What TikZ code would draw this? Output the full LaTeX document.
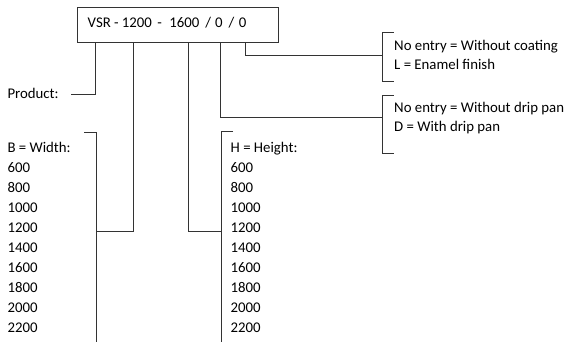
\documentclass[tikz,border=0pt]{standalone}
\usepackage{fontspec}
\setmainfont{Carlito}
\begin{document}
\begin{tikzpicture}[x=1pt,y=-1pt,
  lbl/.style={anchor=base west,inner sep=0pt,font=\fontsize{14.8}{19}\selectfont},
  ln/.style={draw=black!80,line width=0.8pt},
  codebox/.style={draw=black!80,line width=0.8pt,minimum height=35.4pt,text width=180pt,
    inner xsep=10.6pt,inner ysep=0pt,text height=10pt,text depth=5.4pt,
    align=left,anchor=west,font=\fontsize{14.8}{19}\selectfont}]
\useasboundingbox (0,0) rectangle (569,342);
% code box
\node[codebox] (code) at (76.7,25) {VSR\hspace{3.2pt}-\hspace{3.2pt}1200\hspace{5.5pt}-\hspace{7.5pt}1600\hspace{6pt}/\hspace{4pt}0\hspace{6pt}/\hspace{4.5pt}0};
% points on the box bottom
\coordinate (b1) at (95,42.7);
\coordinate (b2) at (133.3,42.7);
\coordinate (b3) at (188.3,42.7);
\coordinate (b4) at (220.7,42.7);
\coordinate (b5) at (245,42.7);
% product
\node[lbl] (prod) at (7.3,98.3) {Product:};
\coordinate (pe) at (71,94);
\draw[ln] (b1) |- (pe);
% width column
\node[lbl] (bw) at (7.3,152) {B = Width:};
\foreach \v [count=\i] in {600,800,1000,1200,1400,1600,1800,2000,2200}
  \node[lbl] (w\i) at (7.3,152+20*\i) {\v};
\coordinate (wt) at (84,132);
\coordinate (wc) at (96,132);
\coordinate (wb) at (96,342);
\coordinate (wm) at (96,231);
\draw[ln] (wt) -- (wc) -- (wb);
\draw[ln] (b2) |- (wm);
% height column
\node[lbl] (hh) at (230.5,152) {H = Height:};
\foreach \v [count=\i] in {600,800,1000,1200,1400,1600,1800,2000,2200}
  \node[lbl] (h\i) at (230.5,152+20*\i) {\v};
\coordinate (ht) at (233,131);
\coordinate (hc) at (221,131);
\coordinate (hb) at (221,342);
\coordinate (hm) at (221,231);
\draw[ln] (ht) -- (hc) -- (hb);
\draw[ln] (b3) |- (hm);
% coating
\node[lbl] (c1) at (394,50.7) {No entry = Without coating};
\node[lbl] (c2) at (394,69.5) {L = Enamel finish};
\coordinate (ct) at (393.5,32);
\coordinate (ctc) at (382.3,32);
\coordinate (cbc) at (382.3,81);
\coordinate (cb) at (393.5,81);
\coordinate (cm) at (382.3,55);
\draw[ln] (ct) -- (ctc) -- (cbc) -- (cb);
\draw[ln] (b5) |- (cm);
% drip pan
\node[lbl] (d1) at (394,112.3) {No entry = Without drip pan};
\node[lbl] (d2) at (394,131.7) {D = With drip pan};
\coordinate (dt) at (393.5,95.7);
\coordinate (dtc) at (382.3,95.7);
\coordinate (dbc) at (382.3,153.3);
\coordinate (db) at (393.5,153.3);
\coordinate (dm) at (382.3,117.3);
\draw[ln] (dt) -- (dtc) -- (dbc) -- (db);
\draw[ln] (b4) |- (dm);
\end{tikzpicture}
\end{document}
